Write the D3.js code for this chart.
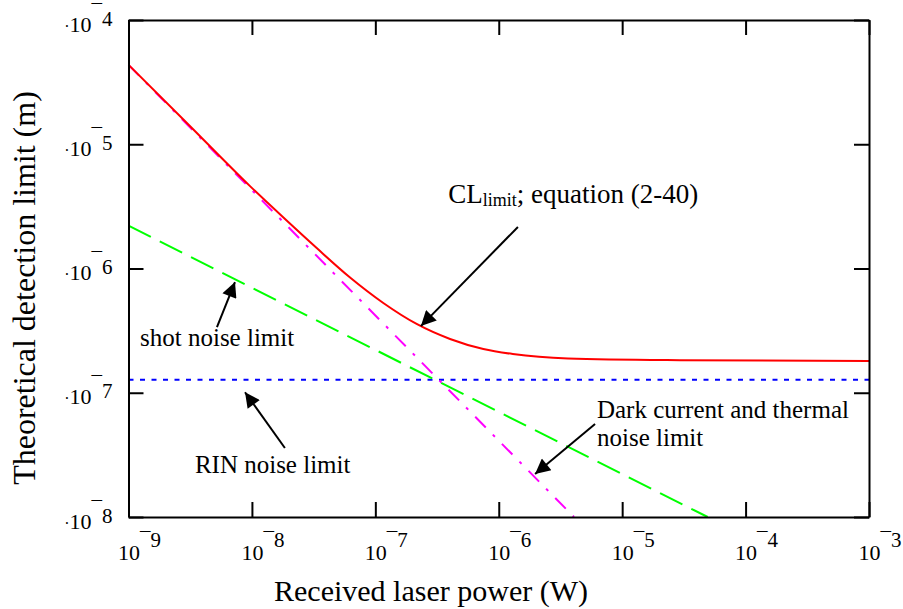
<!DOCTYPE html>
<html>
<head>
<meta charset="utf-8">
<script src="https://cdn.jsdelivr.net/npm/d3@7"></script>
<style>
  html, body { margin: 0; padding: 0; background: #fff; }
  svg { display: block; }
  text { font-family: "Liberation Serif", "Times New Roman", serif; fill: #000; }
</style>
</head>
<body>
<svg id="chart" width="903" height="609"></svg>
<script>
// ---------------- data ----------------
const xTickValues = [1e-9, 1e-8, 1e-7, 1e-6, 1e-5, 1e-4, 1e-3];
const xTickExponents = ["9", "8", "7", "6", "5", "4", "3"];
const yTickValues = [1e-8, 1e-7, 1e-6, 1e-5, 1e-4];
const yTickExponents = ["8", "7", "6", "5", "4"];

// CL_limit (red, solid)
const powerCL = [1e-9, 3e-9, 9.65e-9, 1.8e-8, 3.35e-8, 6.24e-8, 1.16e-7, 2.16e-7, 4.03e-7, 7.5e-7, 1.3e-6, 3.64e-6, 2.94e-5, 1e-3];
const limitCL = [4.36e-5, 1.47e-5, 4.6e-6, 2.57e-6, 1.46e-6, 8.46e-7, 5.28e-7, 3.58e-7, 2.71e-7, 2.25e-7, 2.05e-7, 1.89e-7, 1.83e-7, 1.80e-7];
// Dark current and thermal noise limit (magenta, dash-dot)
const powerDark = [1e-9, 4.07e-6];
const limitDark = [4.35e-5, 1e-8];
// Shot noise limit (green, dashed)
const powerShot = [1e-9, 4.93e-5];
const limitShot = [2.21e-6, 1e-8];
// RIN noise limit (blue, dotted)
const powerRIN = [1e-9, 1e-3];
const limitRIN = [1.27e-7, 1.27e-7];

// annotations: text anchor and arrow (tail -> head) in data units
const annotationTexts = ["shot noise limit", "RIN noise limit", "Dark current and thermal", "noise limit"];
const annotationTextPos = [[1.24e-9, 2.38e-7], [3.45e-9, 2.26e-8], [6.25e-6, 6.27e-8], [6.25e-6, 3.72e-8]];
const clLabelPos = [3.9e-7, 3.36e-6];
const arrowTails = [[1.43e-6, 2.16e-6], [5.21e-9, 3.38e-7], [1.85e-8, 3.59e-8], [6.03e-6, 5.6e-8]];
const arrowHeads = [[2.34e-7, 3.44e-7], [7.29e-9, 7.78e-7], [8.79e-9, 1.01e-7], [1.97e-6, 2.22e-8]];

// ---------------- chart ----------------
const svg = d3.select("#chart");
const X0 = 128.5, X1 = 869, Y0 = 517, Y1 = 20;
const x = d3.scaleLog().domain([1e-9, 1e-3]).range([X0, X1]);
const y = d3.scaleLog().domain([1e-8, 1e-4]).range([Y0, Y1]);

const line = d3.line().x(d => x(d[0])).y(d => y(d[1]));
const curve = d3.line().x(d => x(d[0])).y(d => y(d[1])).curve(d3.curveMonotoneX);

const zip = (a, b) => a.map((v, i) => [v, b[i]]);

// series
svg.append("path").datum(zip(powerRIN, limitRIN))
  .attr("d", line).attr("fill", "none").attr("stroke", "#0000ff")
  .attr("stroke-width", 2).attr("stroke-dasharray", "5,6.5");
svg.append("path").datum(zip(powerShot, limitShot))
  .attr("d", line).attr("fill", "none").attr("stroke", "#00ff00")
  .attr("stroke-width", 2).attr("stroke-dasharray", "25,10");
svg.append("path").datum(zip(powerDark, limitDark))
  .attr("d", line).attr("fill", "none").attr("stroke", "#ff00ff")
  .attr("stroke-width", 2).attr("stroke-dasharray", "15,10,3,10");
svg.append("path").datum(zip(powerCL, limitCL))
  .attr("d", curve).attr("fill", "none").attr("stroke", "#ff0000")
  .attr("stroke-width", 2);

// axes (ticks pointing inward)
const tickLen = 15;
const gB = svg.append("g").attr("transform", `translate(0,${Y0})`)
  .call(d3.axisBottom(x).tickValues(xTickValues).tickSizeInner(-tickLen).tickSizeOuter(0).tickFormat(""));
const gT = svg.append("g").attr("transform", `translate(0,${Y1})`)
  .call(d3.axisTop(x).tickValues(xTickValues).tickSizeInner(-tickLen).tickSizeOuter(0).tickFormat(""));
const gL = svg.append("g").attr("transform", `translate(${X0},0)`)
  .call(d3.axisLeft(y).tickValues(yTickValues).tickSizeInner(-tickLen).tickSizeOuter(0).tickFormat(""));
const gR = svg.append("g").attr("transform", `translate(${X1},0)`)
  .call(d3.axisRight(y).tickValues(yTickValues).tickSizeInner(-tickLen).tickSizeOuter(0).tickFormat(""));
[gB, gT, gL, gR].forEach(g => {
  g.select(".domain").attr("stroke", "#000").attr("stroke-width", 2);
  g.selectAll(".tick line").attr("stroke", "#000").attr("stroke-width", 2);
  g.selectAll(".tick text").remove();
});

// x tick labels
gB.selectAll(".tick").each(function(d, i) {
  const t = d3.select(this).append("text")
    .attr("x", -11).attr("y", 43).attr("text-anchor", "start")
    .style("font-size", "22px");
  t.append("tspan").text("10");
  t.append("tspan").attr("dy", -13).style("font-size", "21px").text("\u00AF");
  t.append("tspan").style("font-size", "21px").text(xTickExponents[i]);
});

// y tick labels
gL.selectAll(".tick").each(function(d, i) {
  const t = d3.select(this).append("text")
    .attr("x", -16).attr("y", 11).attr("text-anchor", "end")
    .style("font-size", "22px");
  t.append("tspan").style("font-size", "16px").text("\u00B7");
  t.append("tspan").text("10");
  t.append("tspan").attr("dy", -13).style("font-size", "21px").text("\u00AF");
  t.append("tspan").attr("dy", 7).style("font-size", "21px").text(yTickExponents[i]);
});

// axis titles
svg.append("text")
  .attr("x", 431).attr("y", 601).attr("text-anchor", "middle")
  .style("font-size", "30px").text("Received laser power (W)");
svg.append("text")
  .attr("transform", `translate(35,288) rotate(-90)`)
  .attr("text-anchor", "middle")
  .style("font-size", "32px").text("Theoretical detection limit (m)");

// annotation texts
annotationTexts.forEach((s, i) => {
  svg.append("text")
    .attr("x", x(annotationTextPos[i][0])).attr("y", y(annotationTextPos[i][1]))
    .style("font-size", "25px").text(s);
});
const cl = svg.append("text")
  .attr("x", x(clLabelPos[0])).attr("y", y(clLabelPos[1]));
cl.append("tspan").style("font-size", "27px").text("CL");
cl.append("tspan").attr("dy", 3).style("font-size", "18px").text("limit");
cl.append("tspan").attr("dy", -3).style("font-size", "27px").text("; equation (2-40)");

// arrows
svg.append("defs").append("marker")
  .attr("id", "ah").attr("viewBox", "0 0 10 10")
  .attr("refX", 10).attr("refY", 5)
  .attr("markerWidth", 20).attr("markerHeight", 15)
  .attr("markerUnits", "userSpaceOnUse")
  .attr("orient", "auto")
  .append("path").attr("d", "M0,0 L10,5 L0,10 Z").attr("fill", "#000");
arrowTails.forEach((tail, i) => {
  const head = arrowHeads[i];
  svg.append("line")
    .attr("x1", x(tail[0])).attr("y1", y(tail[1]))
    .attr("x2", x(head[0])).attr("y2", y(head[1]))
    .attr("stroke", "#000").attr("stroke-width", 2)
    .attr("marker-end", "url(#ah)");
});
</script>
</body>
</html>
